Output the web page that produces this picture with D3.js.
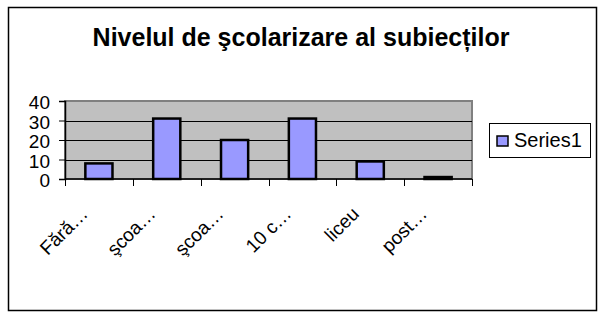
<!DOCTYPE html>
<html>
<head>
<meta charset="utf-8">
<script src="https://cdn.jsdelivr.net/npm/d3@7"></script>
<style>
body { margin: 0; background: #fff; }
text { font-family: Arial, "Liberation Sans", sans-serif; fill: #000; }
</style>
</head>
<body>
<div id="chart"></div>
<script>
var categories = ["Fără…", "şcoa…", "şcoa…", "10 c…", "liceu", "post…"];
var values = [8, 31, 20, 31, 9, 1];
var yTicks = [0, 10, 20, 30, 40];
var seriesName = "Series1";
var title = "Nivelul de şcolarizare al subiecților";

var W = 607, H = 320;
var plot = {left: 65, right: 472, top: 101, bottom: 179};

var svg = d3.select("#chart").append("svg")
	.attr("width", W)
	.attr("height", H);

// outer frame
svg.append("rect")
	.attr("x", 8.5).attr("y", 7.5)
	.attr("width", 588).attr("height", 303)
	.attr("fill", "#fff")
	.attr("stroke", "#000")
	.attr("stroke-width", 1.5);

svg.append("text")
	.attr("x", 301).attr("y", 46)
	.attr("text-anchor", "middle")
	.attr("font-size", "25px")
	.attr("font-weight", "bold")
	.text(title);

var xScale = d3.scaleBand().domain(d3.range(categories.length))
	.range([plot.left, plot.right]);
var yScale = d3.scaleLinear().domain([0, 40]).range([plot.bottom, plot.top]);

// plot area
svg.append("rect")
	.attr("x", plot.left).attr("y", plot.top)
	.attr("width", plot.right - plot.left)
	.attr("height", plot.bottom - plot.top)
	.attr("fill", "#c0c0c0")
	.attr("stroke", "#808080")
	.attr("stroke-width", 2);

// gridlines
svg.selectAll("line.grid")
	.data(yTicks.filter(function(d){ return d > 0 && d < 40; }))
	.enter()
	.append("line")
	.attr("class", "grid")
	.attr("x1", plot.left).attr("x2", plot.right)
	.attr("y1", function(d){ return Math.round(yScale(d)) + 0.5; })
	.attr("y2", function(d){ return Math.round(yScale(d)) + 0.5; })
	.attr("stroke", "#000");

// bars
var bw = xScale.bandwidth();
svg.selectAll("rect.bar")
	.data(values)
	.enter()
	.append("rect")
	.attr("class", "bar")
	.attr("x", function(d, i){ return xScale(i) + bw * 0.3; })
	.attr("y", function(d){ return yScale(d); })
	.attr("width", bw * 0.4)
	.attr("height", function(d){ return yScale(0) - yScale(d); })
	.attr("fill", "#9999ff")
	.attr("stroke", "#000")
	.attr("stroke-width", 2.5);

// y axis
var yAxis = d3.axisLeft(yScale).tickValues(yTicks).tickSize(6).tickPadding(9);
var gy = svg.append("g")
	.attr("transform", "translate(" + plot.left + ",0)")
	.call(yAxis);
gy.select(".domain").attr("stroke-width", 1.5);
gy.selectAll("text")
	.attr("font-size", "19px")
	.attr("font-family", "Arial, 'Liberation Sans', sans-serif")
	.attr("dy", "0.42em");

// x axis line and ticks at category boundaries
svg.append("line")
	.attr("x1", plot.left).attr("x2", plot.right)
	.attr("y1", plot.bottom).attr("y2", plot.bottom)
	.attr("stroke", "#000").attr("stroke-width", 1.5);

var bounds = d3.range(categories.length).map(function(i){ return xScale(i); }).concat([plot.right]);
svg.selectAll("line.xtick")
	.data(bounds)
	.enter()
	.append("line")
	.attr("class", "xtick")
	.attr("x1", function(d){ return Math.round(d) + 0.5; })
	.attr("x2", function(d){ return Math.round(d) + 0.5; })
	.attr("y1", plot.bottom).attr("y2", plot.bottom + 7)
	.attr("stroke", "#000");

svg.selectAll("text.xlab")
	.data(categories)
	.enter()
	.append("text")
	.attr("class", "xlab")
	.attr("font-size", "19px")
	.attr("text-anchor", "end")
	.attr("transform", function(d, i){
		var x = xScale(i) + bw / 2 - 10, y = plot.bottom + 36;
		return "translate(" + x + "," + y + ") rotate(-45)";
	})
	.text(function(d){ return d; });

// legend
var lg = svg.append("g");
lg.append("rect")
	.attr("x", 489.5).attr("y", 123.5)
	.attr("width", 101).attr("height", 34)
	.attr("fill", "#fff")
	.attr("stroke", "#000");
lg.append("rect")
	.attr("x", 497).attr("y", 136)
	.attr("width", 11).attr("height", 10)
	.attr("fill", "#9999ff")
	.attr("stroke", "#000")
	.attr("stroke-width", 1.5);
lg.append("text")
	.attr("x", 514).attr("y", 147)
	.attr("font-size", "20px")
	.text(seriesName);
</script>
</body>
</html>
